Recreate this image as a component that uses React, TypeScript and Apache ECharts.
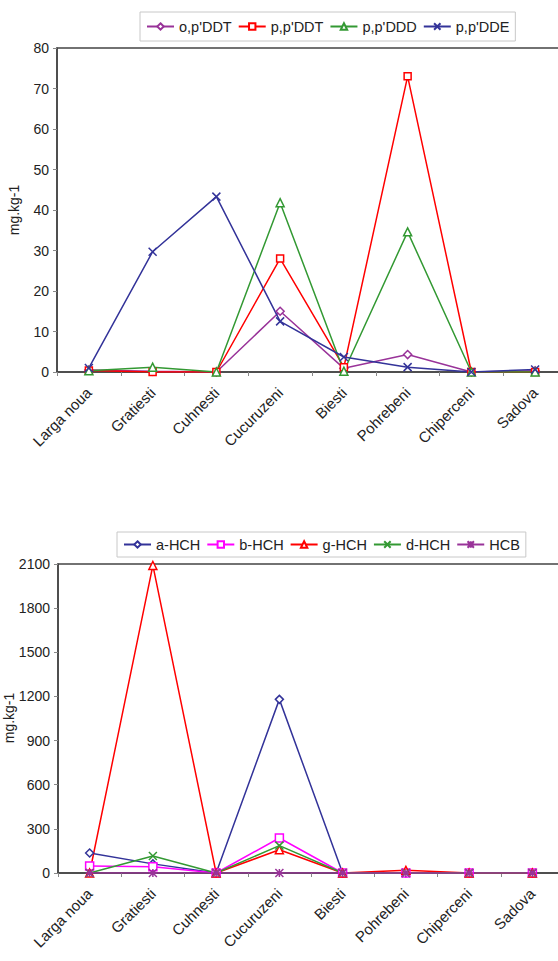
import React, { useEffect, useRef } from 'react';
import * as echarts from 'echarts';

const categories = ['Larga noua', 'Gratiesti', 'Cuhnesti', 'Cucuruzeni', 'Biesti', 'Pohrebeni', 'Chiperceni', 'Sadova'];

// top chart (DDT family)
const ddtNames = ["o,p'DDT", "p,p'DDT", "p,p'DDD", "p,p'DDE"];
const opDDT = [0.5, 0.2, 0, 15, 0.9, 4.3, 0, 0.3];
const ppDDT = [0.4, 0, 0, 28, 1.2, 73, 0, 0];
const ppDDD = [0.3, 1.2, 0, 41.8, 0.2, 34.6, 0, 0];
const ppDDE = [1, 29.7, 43.3, 12.5, 3.7, 1.2, 0, 0.6];

// bottom chart (HCH family)
const hchNames = ['a-HCH', 'b-HCH', 'g-HCH', 'd-HCH', 'HCB'];
const aHCH = [136, 62, 0, 1180, 0, 0, 0, 0];
const bHCH = [48, 42, 0, 238, 0, 0, 0, 0];
const gHCH = [0, 2090, 0, 158, 0, 18, 0, 0];
const dHCH = [0, 115, 0, 186, 0, 0, 0, 0];
const HCB = [0, 0, 0, 0, 0, 0, 0, 0];

const unitName = 'mg.kg-1';

const PURPLE = '#993399';
const RED = '#ff0000';
const GREEN = '#339933';
const NAVY = '#333399';
const MAGENTA = '#ff00ff';

const X_PATH = 'path://M0,0L10,10M10,0L0,10';
const STAR_PATH = 'path://M0,0L10,10M10,0L0,10M5,0L5,10M0,5L10,5';

const FONT = 'Liberation Sans';

function mk(name: string, data: number[], color: string, symbol: string, size: number, xi: number) {
  return {
    name,
    type: 'line',
    xAxisIndex: xi,
    yAxisIndex: xi,
    data,
    color,
    symbol,
    symbolSize: size,
    showAllSymbol: true,
    lineStyle: { color, width: 1.5 },
    itemStyle: { color: '#ffffff', borderColor: color, borderWidth: 1.5 },
    emphasis: { disabled: true },
  };
}

export default function App() {
  const ref = useRef<HTMLDivElement>(null);
  useEffect(() => {
    if (!ref.current) return;
    const chart = echarts.init(ref.current, undefined, { renderer: 'svg' });
    const xAxisCommon = {
      type: 'category',
      data: categories,
      boundaryGap: true,
      axisLine: { lineStyle: { color: '#444', width: 1.5 } },
      axisTick: { show: true, length: 4, lineStyle: { color: '#888' } },
      axisLabel: { color: '#222', fontFamily: FONT, fontSize: 15, rotate: 45, interval: 0, margin: 18 },
      splitLine: { show: false },
    };
    const yAxisCommon = {
      type: 'value',
      nameLocation: 'middle',
      nameRotate: 90,
      nameTextStyle: { color: '#222', fontFamily: FONT, fontSize: 14 },
      axisLine: { show: true, lineStyle: { color: '#444', width: 1.5 } },
      axisTick: { show: true, length: 4, lineStyle: { color: '#888' } },
      axisLabel: { color: '#222', fontFamily: FONT, fontSize: 14, margin: 8, formatter: (v: number) => String(v) },
      splitLine: { show: false },
    };
    const legendCommon = {
      orient: 'horizontal',
      borderColor: '#c8c8c8',
      borderWidth: 1,
      padding: [7, 6],
      itemWidth: 27,
      itemHeight: 8,
      itemGap: 6,
      textStyle: { color: '#222', fontFamily: FONT, fontSize: 14.5 },
    };
    chart.setOption({
      animation: false,
      backgroundColor: '#ffffff',
      legend: [
        { ...legendCommon, data: ddtNames, left: 140, top: 12 },
        { ...legendCommon, data: hchNames, left: 117, top: 532, padding: [5, 6] },
      ],
      grid: [
        { left: 57, right: 1, top: 48, height: 324, show: true, borderColor: '#444', borderWidth: 1.5, backgroundColor: 'transparent', outerBoundsMode: 'none', containLabel: false },
        { left: 58, right: 4, top: 564, height: 309, show: true, borderColor: '#444', borderWidth: 1.5, backgroundColor: 'transparent', outerBoundsMode: 'none', containLabel: false },
      ],
      xAxis: [
        { ...xAxisCommon, gridIndex: 0 },
        { ...xAxisCommon, gridIndex: 1 },
      ],
      yAxis: [
        { ...yAxisCommon, gridIndex: 0, min: 0, max: 80, interval: 10, name: unitName, nameGap: 36 },
        { ...yAxisCommon, gridIndex: 1, min: 0, max: 2100, interval: 300 },
      ],
      graphic: [
        {
          type: 'text',
          x: 9,
          y: 718,
          rotation: Math.PI / 2,
          style: {
            text: unitName,
            align: 'center',
            verticalAlign: 'middle',
            fill: '#222',
            fontFamily: FONT,
            fontSize: 14,
          },
        },
      ],
      series: [
        mk(ddtNames[0], opDDT, PURPLE, 'diamond', 8, 0),
        mk(ddtNames[1], ppDDT, RED, 'rect', 7, 0),
        mk(ddtNames[2], ppDDD, GREEN, 'triangle', 8, 0),
        mk(ddtNames[3], ppDDE, NAVY, X_PATH, 8, 0),
        mk(hchNames[0], aHCH, NAVY, 'diamond', 8, 1),
        mk(hchNames[1], bHCH, MAGENTA, 'rect', 8, 1),
        mk(hchNames[2], gHCH, RED, 'triangle', 8, 1),
        mk(hchNames[3], dHCH, GREEN, X_PATH, 8, 1),
        mk(hchNames[4], HCB, PURPLE, STAR_PATH, 8, 1),
      ],
    });
    return () => chart.dispose();
  }, []);
  return (
    <div style={{ position: 'absolute', left: 0, top: 0, width: 558, height: 961, overflow: 'hidden' }}>
      <div ref={ref} style={{ width: 568, height: 961 }} />
    </div>
  );
}
